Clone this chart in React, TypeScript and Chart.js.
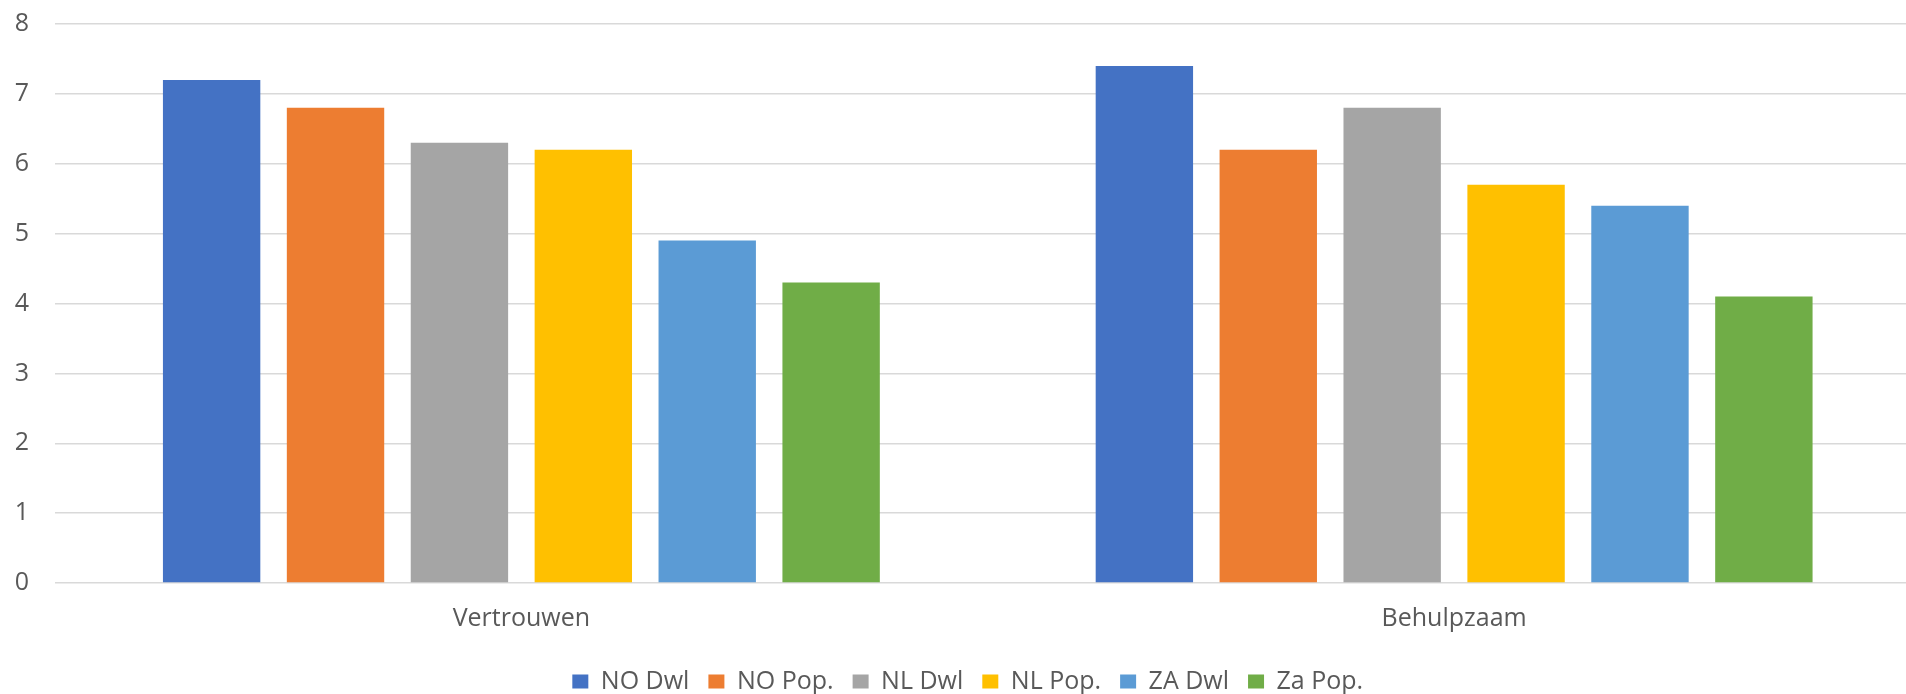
import React, { useEffect, useRef } from "react";
import { Chart, registerables } from "chart.js";

Chart.register(...registerables);

const categories = ["Vertrouwen", "Behulpzaam"];
const seriesNames = ["NO Dwl", "NO Pop.", "NL Dwl", "NL Pop.", "ZA Dwl", "Za Pop."];
const noDwl = [7.2, 7.4];
const noPop = [6.8, 6.2];
const nlDwl = [6.3, 6.8];
const nlPop = [6.2, 5.7];
const zaDwl = [4.9, 5.4];
const zaPop = [4.3, 4.1];
const seriesColors = ["#4472C4", "#ED7D31", "#A5A5A5", "#FFC000", "#5B9BD5", "#70AD47"];
const yTicks = [0, 1, 2, 3, 4, 5, 6, 7, 8];

// The drawing surface is a little wider than the view; the right edge is clipped.
const CANVAS_W = 1926;
const CANVAS_H = 704;
const LEGEND_PAD = 19;
const FONT_SIZE = 25;
// Space between the plot's bottom edge and the legend block.
const X_AXIS_HEIGHT = CANVAS_H - (FONT_SIZE + LEGEND_PAD + 10) - 583;

export default function App() {
  const canvasRef = useRef<HTMLCanvasElement | null>(null);

  useEffect(() => {
    document.body.style.margin = "0";
    const canvas = canvasRef.current;
    if (!canvas) return;
    const values = [noDwl, noPop, nlDwl, nlPop, zaDwl, zaPop];
    const font = { family: "'Open Sans', 'Noto Sans', sans-serif", size: FONT_SIZE };
    const chart = new Chart(canvas, {
      type: "bar",
      data: {
        labels: categories,
        datasets: seriesNames.map((name, i) => ({
          label: name,
          data: values[i],
          backgroundColor: seriesColors[i],
          borderWidth: 0,
          barPercentage: 0.786,
          categoryPercentage: 0.797,
        })),
      },
      options: {
        animation: false,
        responsive: false,
        devicePixelRatio: 1,
        layout: { padding: { left: 15, right: 5.5, top: 24, bottom: 0 } },
        plugins: {
          tooltip: { enabled: false },
          legend: {
            position: "bottom",
            labels: {
              color: "#595959",
              font,
              boxWidth: 16,
              boxHeight: 14,
              padding: LEGEND_PAD,
            },
          },
        },
        scales: {
          x: {
            grid: { display: false, drawTicks: false },
            border: { display: false },
            ticks: { color: "#595959", font, padding: 21 },
            afterFit: (scale: any) => {
              scale.height = X_AXIS_HEIGHT;
              scale.paddingLeft = 0;
              scale.paddingRight = 0;
            },
          },
          y: {
            min: 0,
            max: 8,
            afterBuildTicks: (scale: any) => {
              scale.ticks = yTicks.map((v) => ({ value: v }));
            },
            grid: { color: "#d9d9d9", lineWidth: 1.5, drawTicks: false },
            border: { display: false },
            ticks: { color: "#595959", font, padding: 26 },
            afterFit: (scale: any) => {
              scale.width = 40;
              scale.paddingTop = 0;
              scale.paddingBottom = 0;
            },
          },
        },
      },
    });
    return () => chart.destroy();
  }, []);

  return (
    <div style={{ width: 1906, height: 694, overflow: "hidden", background: "#fff" }}>
      <canvas ref={canvasRef} width={CANVAS_W} height={CANVAS_H} style={{ display: "block" }} />
    </div>
  );
}
